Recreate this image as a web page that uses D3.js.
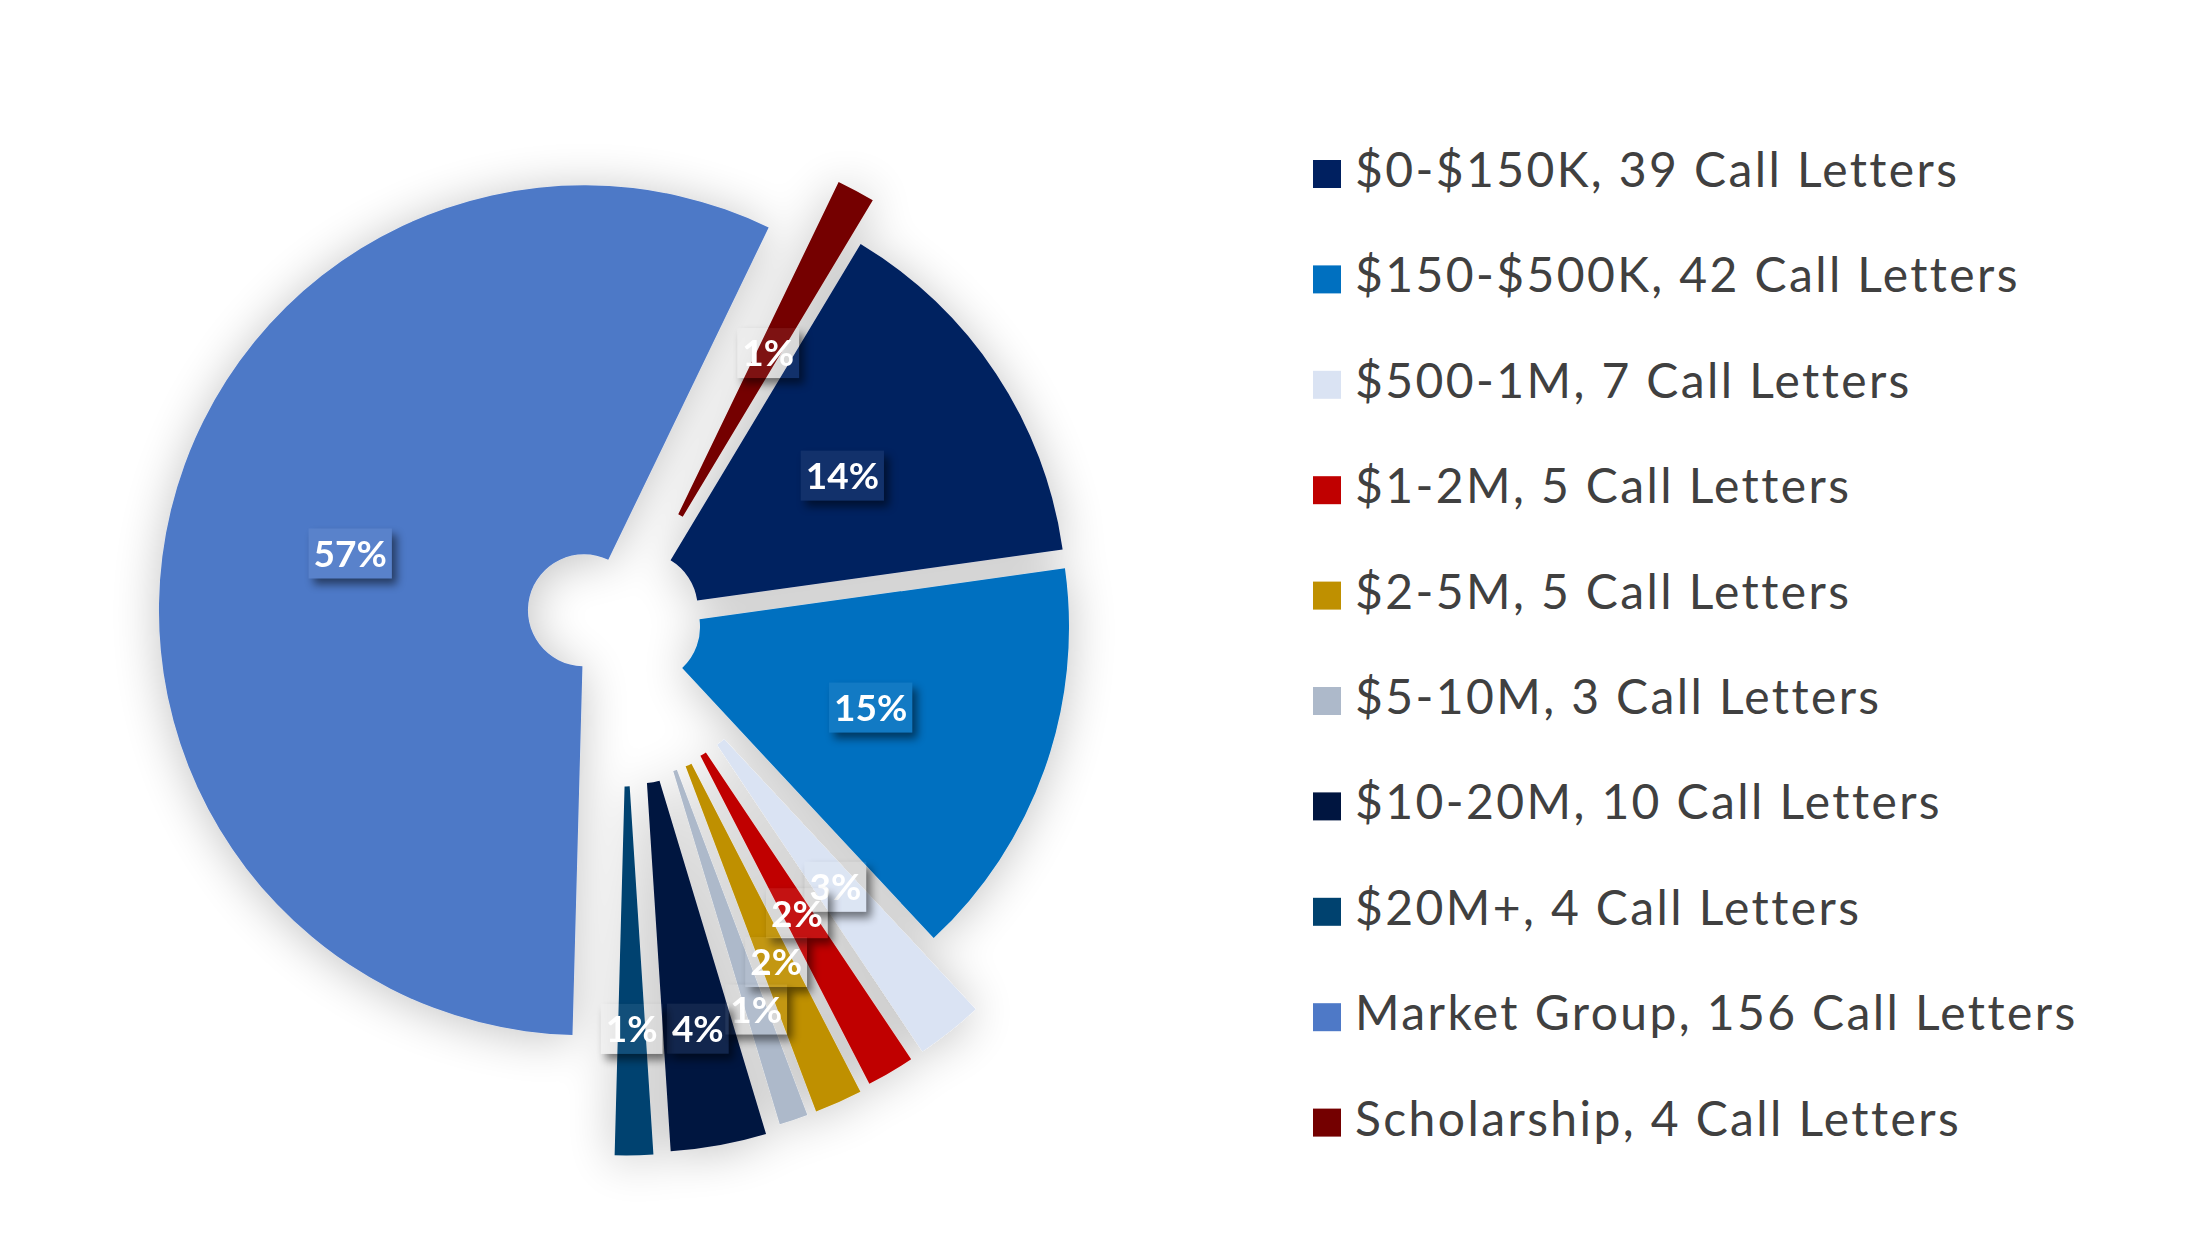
<!DOCTYPE html>
<html>
<head>
<meta charset="utf-8">
<script src="https://cdn.jsdelivr.net/npm/d3@7"></script>
<style>
  body { margin: 0; background: #fff; }
  svg { display: block; }
</style>
</head>
<body>
<svg id="chart"></svg>
<script>
const categories = ["$0-$150K", "$150-$500K", "$500-1M", "$1-2M", "$2-5M", "$5-10M", "$10-20M", "$20M+", "Market Group", "Scholarship"]
const callLetters = [39, 42, 7, 5, 5, 3, 10, 4, 156, 4]
const colors = ["#002060", "#0070C0", "#DAE3F3", "#C00000", "#BF9000", "#ADB9CA", "#001540", "#00426F", "#4E79C7", "#740000"]

// style: how far each slice is pulled out (fraction of radius) and extra push for crowded labels (px)
const explode = [0.05, 0.05, 0.235, 0.235, 0.242, 0.242, 0.256, 0.26, 0.097, 0.148]
const labelPush = [0, 0, 0, 0, 31, 68, 66, 58, 0, 0]

const config = {
  width: 2195,
  height: 1242,
  cx: 624,
  cy: 620,
  outer: 425,
  inner: 56,
  firstSliceDeg: 31,
  legend: { x: 1313, y: 160, step: 105.4, box: 28, textX: 1355 }
}

const svg = d3.select("#chart")
  .attr("width", config.width)
  .attr("height", config.height)

const defs = svg.append("defs")

// soft shadow round the slices
const glow = defs.append("filter").attr("id", "glow")
  .attr("x", "-30%").attr("y", "-30%").attr("width", "160%").attr("height", "160%")
glow.append("feGaussianBlur").attr("in", "SourceAlpha").attr("stdDeviation", 24)
glow.append("feOffset").attr("dx", 0).attr("dy", 4)
glow.append("feComponentTransfer").append("feFuncA").attr("type", "linear").attr("slope", 0.24)
const gm = glow.append("feMerge")
gm.append("feMergeNode")
gm.append("feMergeNode").attr("in", "SourceGraphic")

// shadow of the label boxes, only outside the box
const boxShadow = defs.append("filter").attr("id", "boxShadow")
  .attr("x", "-40%").attr("y", "-40%").attr("width", "180%").attr("height", "180%")
boxShadow.append("feGaussianBlur").attr("in", "SourceAlpha").attr("stdDeviation", 4)
boxShadow.append("feOffset").attr("dx", 5).attr("dy", 6).attr("result", "off")
boxShadow.append("feComponentTransfer").append("feFuncA").attr("type", "linear").attr("slope", 0.5)
boxShadow.append("feComposite").attr("in2", "SourceAlpha").attr("operator", "out")

const total = d3.sum(callLetters)
const a0 = config.firstSliceDeg * Math.PI / 180
const pie = d3.pie().sort(null).startAngle(a0).endAngle(a0 + 2 * Math.PI)
const arcs = pie(callLetters)
const arc = d3.arc().innerRadius(config.inner).outerRadius(config.outer)

const centerOf = (d, i) => {
  const a = (d.startAngle + d.endAngle) / 2
  const e = explode[i] * config.outer
  return [config.cx + e * Math.sin(a), config.cy - e * Math.cos(a)]
}

const slices = svg.append("g").attr("filter", "url(#glow)")
slices.selectAll("path")
  .data(arcs)
  .enter()
  .append("path")
  .attr("transform", (d, i) => { const c = centerOf(d, i); return `translate(${c[0]},${c[1]})` })
  .attr("d", arc)
  .attr("fill", (d, i) => colors[i])

// percentage labels
const labels = svg.append("g")
arcs.forEach((d, i) => {
  const c = centerOf(d, i)
  const a = (d.startAngle + d.endAngle) / 2
  const cen = arc.centroid(d)
  const x = c[0] + cen[0] + labelPush[i] * Math.sin(a)
  const y = c[1] + cen[1] - labelPush[i] * Math.cos(a)
  const g = labels.append("g").attr("transform", `translate(${x},${y})`)
  const shadowRect = g.append("rect").attr("fill", "#000").attr("filter", "url(#boxShadow)")
  const tint = g.append("rect").attr("fill", "#fff").attr("fill-opacity", 0.07)
  const t = g.append("text")
    .attr("text-anchor", "middle")
    .attr("dy", "0.36em")
    .style("font-family", "Lato, 'Open Sans', sans-serif")
    .style("font-weight", 700)
    .style("font-size", "37px")
    .attr("fill", "#fff")
    .text(Math.round(callLetters[i] / total * 100) + "%")
  const w = t.node().getComputedTextLength() + 10
  const h = 50
  shadowRect.attr("x", -w / 2).attr("y", -h / 2).attr("width", w).attr("height", h)
  tint.attr("x", -w / 2).attr("y", -h / 2).attr("width", w).attr("height", h)
})

// legend
const legend = svg.append("g")
const rows = legend.selectAll("g")
  .data(categories)
  .enter()
  .append("g")
  .attr("transform", (d, i) => `translate(0,${config.legend.y + i * config.legend.step})`)
rows.append("rect")
  .attr("x", config.legend.x)
  .attr("width", config.legend.box)
  .attr("height", config.legend.box)
  .attr("fill", (d, i) => colors[i])
rows.append("text")
  .attr("x", config.legend.textX)
  .attr("y", 27)
  .style("font-family", "Lato, 'Open Sans', sans-serif")
  .style("font-size", "48px")
  .style("letter-spacing", "2.4px")
  .attr("fill", "#404040")
  .text((d, i) => `${d}, ${callLetters[i]} Call Letters`)
</script>
</body>
</html>
